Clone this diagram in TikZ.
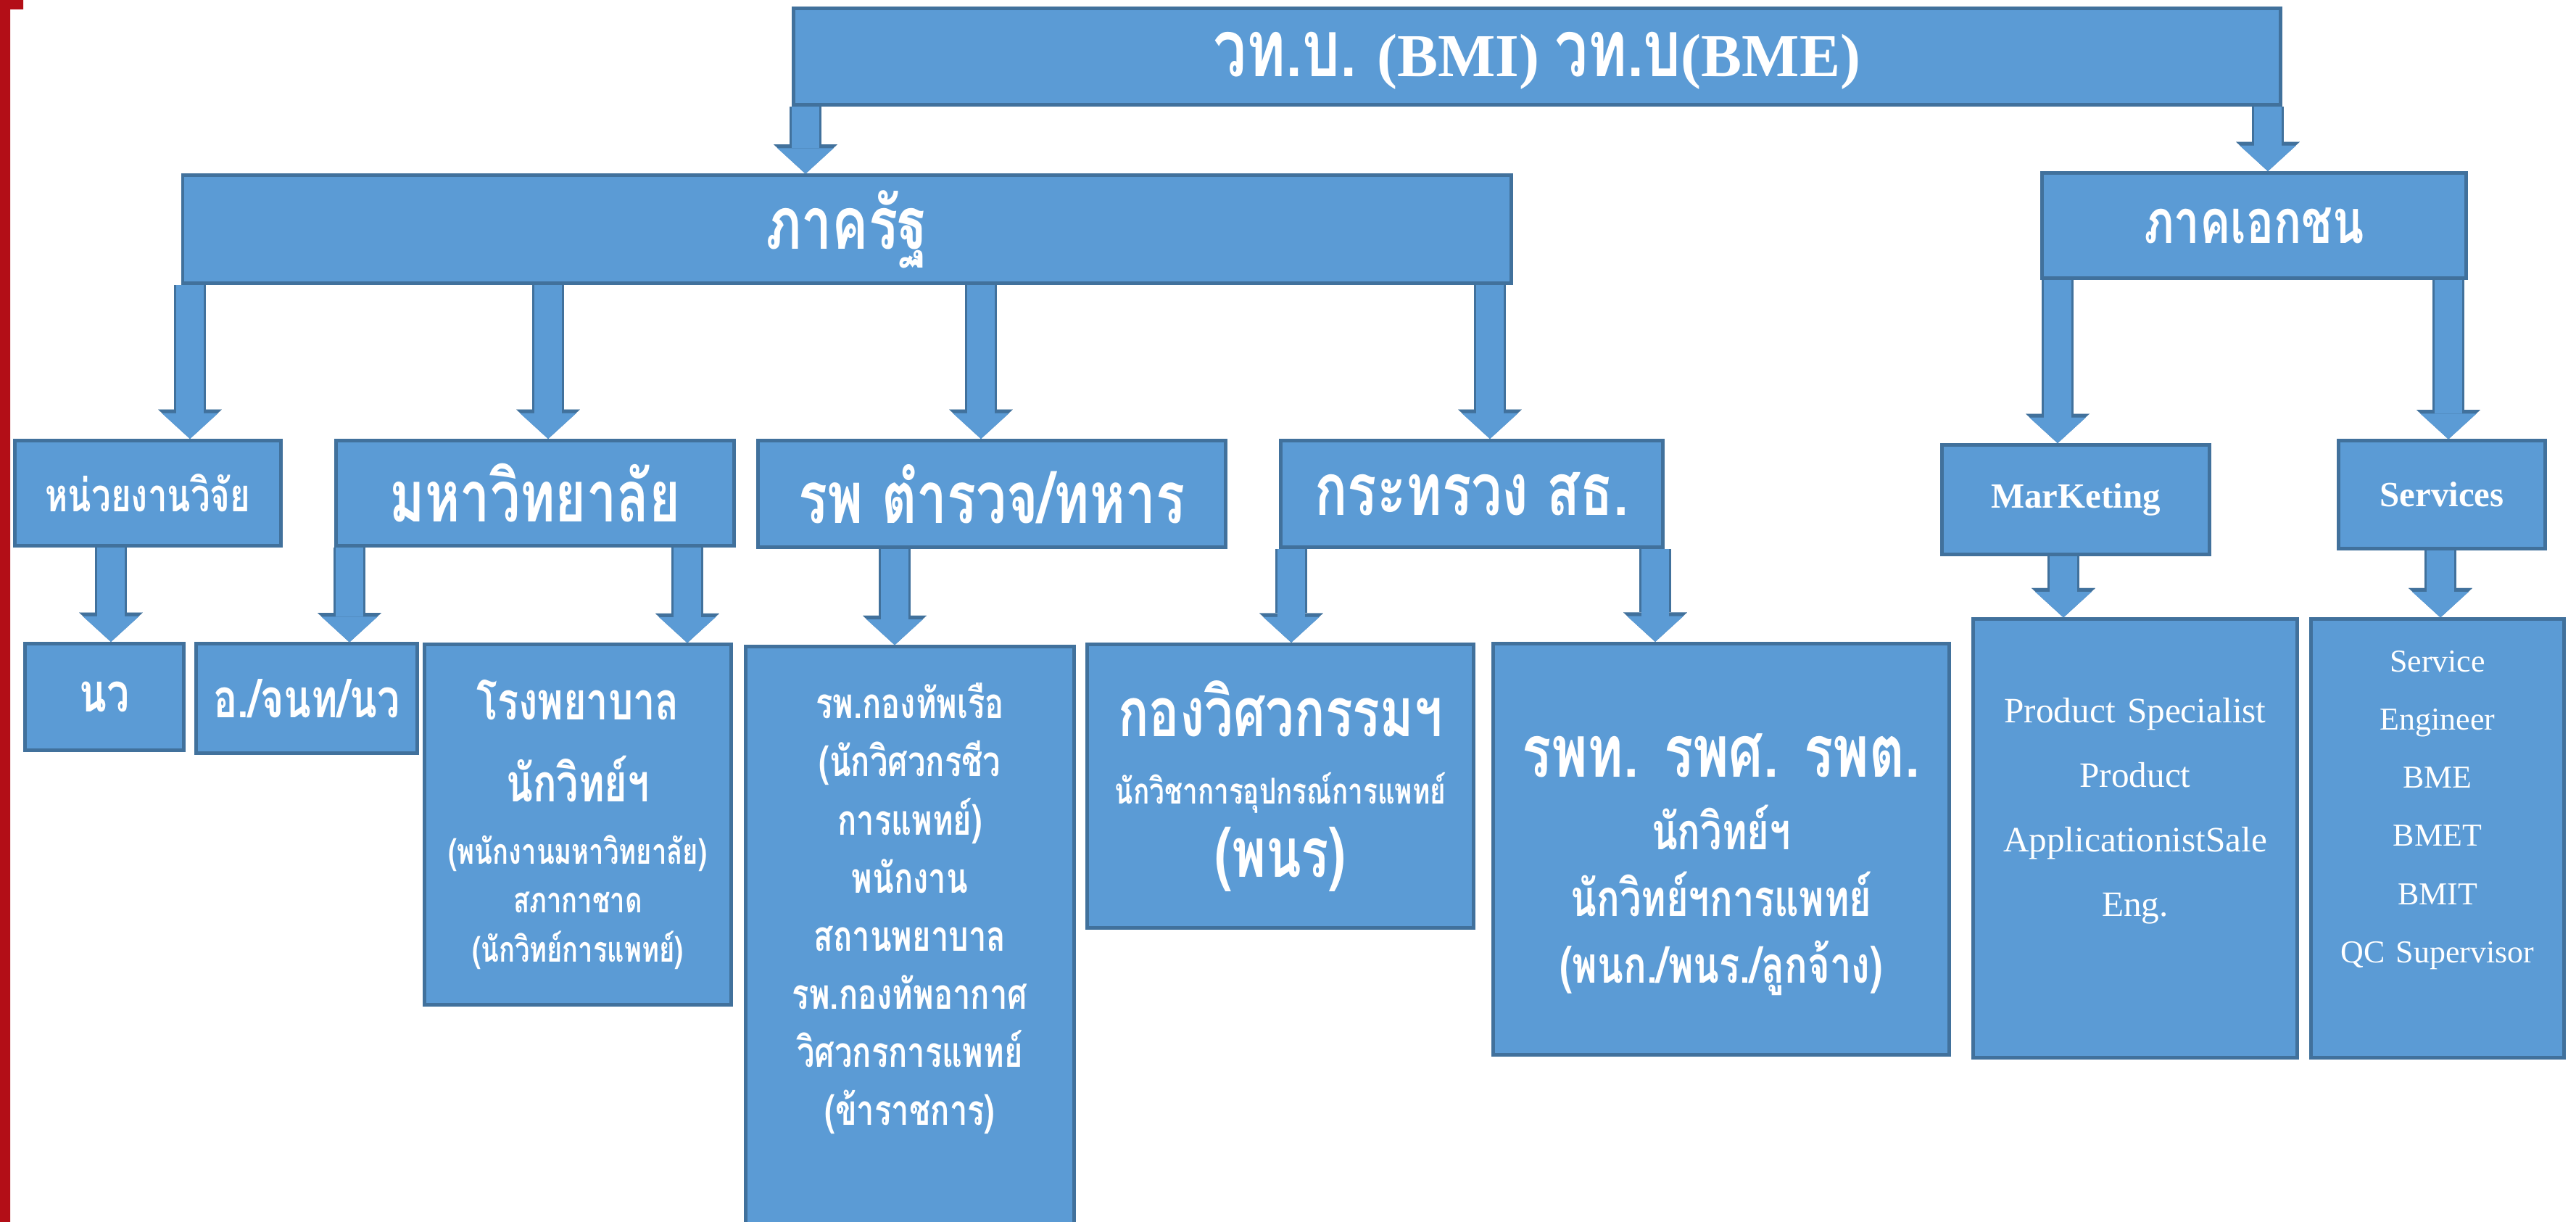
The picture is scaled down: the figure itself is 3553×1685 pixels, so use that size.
\documentclass[tikz,border=0pt]{standalone}
\usepackage{fontspec}
\setmainfont{Liberation Serif}
\newfontfamily\thai[Script=Thai,FakeStretch=0.75]{Loma}
\usetikzlibrary{arrows.meta}

\definecolor{boxblue}{HTML}{5B9BD5}
\definecolor{boxline}{HTML}{41719C}
\definecolor{sidebar}{HTML}{B30E17}

\tikzset{
  box/.style={rectangle, draw=boxline, fill=boxblue, line width=1.4pt,
    text=white, align=center, inner sep=0pt},
  boxtext/.style={text=white, align=center, inner sep=0pt},
  blockarrow/.style={draw=boxblue, line width=10.8pt,
    -{Triangle[width=22pt,length=10pt,line width=0.01pt]},
    preaction={draw=boxline, line width=12.4pt,
      -{Triangle[width=25pt,length=11.5pt,line width=0.01pt]}}},
}

\begin{document}
\begin{tikzpicture}[x=0.01cm, y=-0.01cm]
\useasboundingbox (0,0) rectangle (3553,1685);
\fill[sidebar] (0,0) rectangle (14,1685) (0,0) rectangle (32,13);

% top
\node[box, minimum width=20.5cm, minimum height=1.33cm] (bme) at (2120,78) {};
\node[boxtext] (bmetext) at ([yshift=-0.06cm]bme.center)
  {\bfseries\fontsize{23.9}{28}\selectfont{\thai\fontsize{31}{36}\selectfont วท.บ.} (BMI) {\thai\fontsize{31}{36}\selectfont วท.บ}(BME)};

% sectors
\node[box, minimum width=18.31cm, minimum height=1.48cm] (gov) at (1168,316)
  {\thai\bfseries\fontsize{28.5}{34}\selectfont ภาครัฐ};
\node[box, minimum width=5.85cm, minimum height=1.45cm] (priv) at (3109,311)
  {\thai\bfseries\fontsize{24}{29}\selectfont ภาคเอกชน};

% second level
\node[box, minimum width=3.66cm, minimum height=1.45cm] (res) at (204,680)
  {\thai\bfseries\fontsize{18}{22}\selectfont หน่วยงานวิจัย};
\node[box, minimum width=5.49cm, minimum height=1.45cm] (uni) at (738,680)
  {\thai\bfseries\fontsize{27.9}{33}\selectfont มหาวิทยาลัย};
\node[box, minimum width=6.45cm, minimum height=1.47cm] (mil) at (1368,681)
  {\thai\bfseries\fontsize{28.3}{34}\selectfont รพ ตำรวจ/ทหาร};
\node[box, minimum width=5.26cm, minimum height=1.47cm] (moph) at (2030,681)
  {\thai\bfseries\fontsize{28.5}{34}\selectfont กระทรวง สธ.};
\node[box, minimum width=3.68cm, minimum height=1.51cm] (mkt) at (2863,689)
  {\bfseries\fontsize{13.9}{17}\selectfont MarKeting};
\node[box, minimum width=2.84cm, minimum height=1.48cm] (svc) at (3368,682)
  {\bfseries\fontsize{13.9}{17}\selectfont Services};

% third level
\node[box, minimum width=2.19cm, minimum height=1.47cm] (nw) at (144,961)
  {\thai\bfseries\fontsize{21}{25}\selectfont นว};
\node[box, minimum width=3.04cm, minimum height=1.50cm] (staff) at (423,963)
  {\thai\bfseries\fontsize{21}{25}\selectfont อ./จนท/นว};
\node[box, text width=4.23cm, minimum height=4.96cm,
  font=\thai\bfseries\fontsize{13.8}{19.3}\selectfont] (hosp) at (797,1137)
  {{\fontsize{20.5}{19.3}\selectfont โรงพยาบาล}\\[13pt]
   {\fontsize{20.5}{19.3}\selectfont นักวิทย์ฯ}\\[5pt]
   (พนักงานมหาวิทยาลัย)\\
   สภากาชาด\\
   (นักวิทย์การแพทย์)};
\node[box, minimum width=4.52cm, minimum height=8.08cm] (navy) at (1255,1296) {};
\node[boxtext, text width=4.4cm, font=\thai\bfseries\fontsize{16.5}{22.8}\selectfont]
  (navytext) at ([yshift=0.43cm]navy.center)
  {รพ.กองทัพเรือ\\(นักวิศวกรชีว\\การแพทย์)\\พนักงาน\\สถานพยาบาล\\รพ.กองทัพอากาศ\\วิศวกรการแพทย์\\(ข้าราชการ)};
\node[box, text width=5.32cm, minimum height=3.91cm,
  font=\thai\bfseries\fontsize{14}{26.5}\selectfont] (eng) at (1766,1084)
  {{\fontsize{26.7}{26.5}\selectfont กองวิศวกรรมฯ}\\
   นักวิชาการอุปกรณ์การแพทย์\\[2pt]
   {\fontsize{27}{26.5}\selectfont (พนร)}};
\node[box, minimum width=6.29cm, minimum height=5.67cm] (prov) at (2374,1171) {};
\node[boxtext, text width=6.2cm, font=\thai\bfseries\fontsize{19.9}{26.2}\selectfont]
  (provtext) at ([yshift=-0.21cm]prov.center)
  {{\fontsize{28.5}{26.2}\selectfont รพท. รพศ. รพต.}\\[2.3pt]
   นักวิทย์ฯ\\
   นักวิทย์ฯการแพทย์\\
   (พนก./พนร./ลูกจ้าง)};
\node[box, minimum width=4.47cm, minimum height=6.04cm] (prod) at (2945,1156) {};
\node[boxtext, text width=4.4cm, font=\fontsize{14}{25.3}\selectfont]
  (prodtext) at ([yshift=0.38cm]prod.center)
  {Product Specialist\\Product\\ApplicationistSale\\Eng.};
\node[box, minimum width=3.49cm, minimum height=6.04cm] (serv) at (3362,1156) {};
\node[boxtext, text width=3.4cm, font=\fontsize{12.5}{22.8}\selectfont]
  (servtext) at ([yshift=0.39cm]serv.center)
  {Service\\Engineer\\BME\\BMET\\BMIT\\QC Supervisor};

% arrows
\draw[blockarrow] (bme.south -| 1111,0) -- (gov.north -| 1111,0);
\draw[blockarrow] (bme.south -| 3128,0) -- (priv.north -| 3128,0);
\draw[blockarrow] (gov.south -| 262,0) -- (res.north -| 262,0);
\draw[blockarrow] (gov.south -| 756,0) -- (uni.north -| 756,0);
\draw[blockarrow] (gov.south -| 1353,0) -- (mil.north -| 1353,0);
\draw[blockarrow] (gov.south -| 2055,0) -- (moph.north -| 2055,0);
\draw[blockarrow] (priv.south -| 2838,0) -- (mkt.north -| 2838,0);
\draw[blockarrow] (priv.south -| 3377,0) -- (svc.north -| 3377,0);
\draw[blockarrow] (res.south -| 153,0) -- (nw.north -| 153,0);
\draw[blockarrow] (uni.south -| 482,0) -- (staff.north -| 482,0);
\draw[blockarrow] (uni.south -| 948,0) -- (hosp.north -| 948,0);
\draw[blockarrow] (mil.south -| 1234,0) -- (navy.north -| 1234,0);
\draw[blockarrow] (moph.south -| 1781,0) -- (eng.north -| 1781,0);
\draw[blockarrow] (moph.south -| 2283,0) -- (prov.north -| 2283,0);
\draw[blockarrow] (mkt.south -| 2846,0) -- (prod.north -| 2846,0);
\draw[blockarrow] (svc.south -| 3366,0) -- (serv.north -| 3366,0);
\end{tikzpicture}
\end{document}
